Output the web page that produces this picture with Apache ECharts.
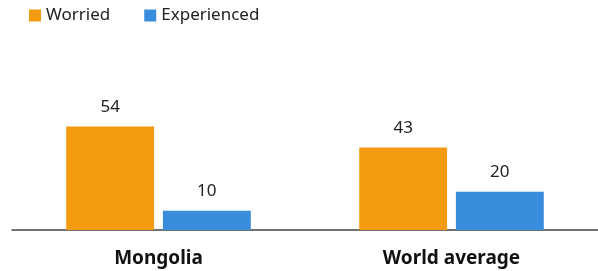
<!DOCTYPE html>
<html>
<head>
<meta charset="utf-8">
<script src="https://cdn.jsdelivr.net/npm/echarts@6/dist/echarts.min.js"></script>
<style>
  html, body { margin: 0; padding: 0; background: #fff; }
  #chart { width: 598px; height: 271px; }
</style>
</head>
<body>
<div id="chart"></div>
<script>
// 数据
const categories = ["Mongolia", "World average"];
const worried = [54, 43];
const experienced = [10, 20];

const font = "'Noto Sans', 'Open Sans', sans-serif";
const mychart = echarts.init(document.getElementById("chart"));

const option = {
  animation: false,
  color: ["#f39a10", "#3a8ddd"],
  legend: {
    left: 24,
    top: 2,
    icon: "rect",
    itemWidth: 12,
    itemHeight: 12,
    itemGap: 34,
    textStyle: { fontFamily: font, fontSize: 17, color: "#222" },
    data: ["Worried", "Experienced"],
  },
  grid: { left: 12, right: 0, top: 115, bottom: 41 },
  xAxis: {
    type: "category",
    data: categories,
    axisLine: { lineStyle: { color: "#444", width: 1.5 } },
    axisTick: { show: false },
    axisLabel: {
      fontFamily: font,
      fontSize: 19,
      fontWeight: "bold",
      color: "#111",
      margin: 19,
    },
  },
  yAxis: {
    type: "value",
    min: 0,
    max: 60,
    show: false,
    splitLine: { show: false },
  },
  series: [
    {
      name: "Worried",
      type: "bar",
      data: worried,
      barWidth: "30%",
      barGap: "10%",
      label: {
        show: true,
        position: "top",
        distance: 11,
        fontFamily: font,
        fontSize: 17,
        color: "#222",
      },
    },
    {
      name: "Experienced",
      type: "bar",
      data: experienced,
      barWidth: "30%",
      label: {
        show: true,
        position: "top",
        distance: 11,
        fontFamily: font,
        fontSize: 17,
        color: "#222",
      },
    },
  ],
};
mychart.setOption(option);
</script>
</body>
</html>
